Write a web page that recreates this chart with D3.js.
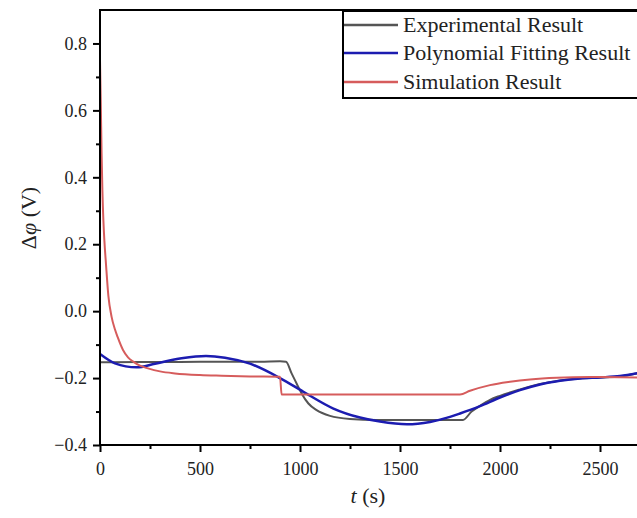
<!DOCTYPE html>
<html>
<head>
<meta charset="utf-8">
<script src="https://cdn.jsdelivr.net/npm/d3@7"></script>
<style>
  body { margin: 0; background: #fff; }
  svg { display: block; }
  text { font-family: "Liberation Serif", "Times New Roman", serif; }
</style>
</head>
<body>
<svg id="chart" width="637" height="518"></svg>
<script>
// Experimental result (gray)
var expT = [0, 200, 400, 600, 800, 900, 930, 958, 983, 1008, 1042, 1083, 1150, 1250, 1383, 1600, 1815, 1858, 1900, 1950, 2000, 2100, 2200, 2300, 2400, 2500, 2600, 2700];
var expV = [-0.153, -0.152, -0.152, -0.151, -0.151, -0.150, -0.151, -0.186, -0.216, -0.246, -0.276, -0.296, -0.313, -0.322, -0.325, -0.325, -0.325, -0.300, -0.283, -0.265, -0.253, -0.234, -0.218, -0.207, -0.201, -0.198, -0.195, -0.184];

// Polynomial fitting result (blue)
var fitT = [0, 75, 183, 275, 408, 530, 625, 750, 900, 1017, 1167, 1300, 1400, 1535, 1650, 1750, 1800, 1900, 2000, 2100, 2200, 2300, 2400, 2500, 2600, 2700];
var fitV = [-0.128, -0.156, -0.168, -0.157, -0.141, -0.134, -0.139, -0.157, -0.200, -0.241, -0.291, -0.318, -0.330, -0.338, -0.331, -0.316, -0.306, -0.284, -0.258, -0.236, -0.219, -0.208, -0.201, -0.198, -0.194, -0.184];

// Simulation result (red)
var simT = [0, 4, 8, 12, 17, 22, 30, 42, 58, 75, 88, 115, 140, 166, 200, 240, 300, 375, 500, 608, 750, 900, 908, 1000, 1800, 1850, 1950, 2050, 2150, 2283, 2450, 2700];
var simV = [0.75, 0.62, 0.47, 0.36, 0.27, 0.21, 0.14, 0.045, -0.017, -0.055, -0.077, -0.116, -0.138, -0.151, -0.163, -0.171, -0.180, -0.186, -0.191, -0.193, -0.195, -0.196, -0.249, -0.249, -0.249, -0.238, -0.221, -0.211, -0.204, -0.199, -0.197, -0.198];

var xMajor = [0, 500, 1000, 1500, 2000, 2500];
var xMinor = [250, 750, 1250, 1750, 2250];
var yMajor = [-0.4, -0.2, 0.0, 0.2, 0.4, 0.6, 0.8];
var yMinor = [-0.3, -0.1, 0.1, 0.3, 0.5, 0.7];

var seriesNames = ["Experimental Result", "Polynomial Fitting Result", "Simulation Result"];
var seriesColors = ["#555555", "#1c1cb0", "#d65c5c"];

var margin = {left: 100, top: 10, right: 640, bottom: 445};

var svg = d3.select("#chart");

var x = d3.scaleLinear().domain([0, 2700]).range([margin.left, margin.right]);
var y = d3.scaleLinear().domain([-0.4, 0.9]).range([margin.bottom, margin.top]);

svg.append("clipPath").attr("id", "plotclip")
  .append("rect")
  .attr("x", margin.left).attr("y", margin.top)
  .attr("width", margin.right - margin.left)
  .attr("height", margin.bottom - margin.top);

// Lines
var series = [
  {t: expT, v: expV, w: 2},
  {t: fitT, v: fitV, w: 2.5},
  {t: simT, v: simV, w: 2}
];

var line = d3.line()
  .x(function(d) { return x(d[0]); })
  .y(function(d) { return y(d[1]); })
  .curve(d3.curveMonotoneX);

var lineGroup = svg.append("g").attr("clip-path", "url(#plotclip)");
series.forEach(function(s, i) {
  var pts = s.t.map(function(t, j) { return [t, s.v[j]]; });
  lineGroup.append("path")
    .attr("d", line(pts))
    .attr("fill", "none")
    .attr("stroke", seriesColors[i])
    .attr("stroke-width", s.w)
    .attr("stroke-linejoin", "round");
});

// Axes
function styleAxis(g) {
  g.select(".domain").remove();
  g.selectAll(".tick line").attr("stroke", "#000").attr("stroke-width", 2);
  g.selectAll(".tick text").attr("fill", "#222").style("font-size", "18px")
    .style("font-family", "'Liberation Serif', serif");
}

svg.append("g").attr("transform", "translate(0," + margin.bottom + ")")
  .call(d3.axisBottom(x).tickValues(xMajor).tickSize(7).tickPadding(10).tickFormat(d3.format("d")))
  .call(styleAxis);
svg.append("g").attr("transform", "translate(0," + margin.bottom + ")")
  .call(d3.axisBottom(x).tickValues(xMinor).tickSize(4).tickFormat(""))
  .call(styleAxis);

svg.append("g").attr("transform", "translate(" + margin.left + ",0)")
  .call(d3.axisLeft(y).tickValues(yMajor).tickSize(7).tickPadding(6).tickFormat(d3.format(".1f")))
  .call(styleAxis);
svg.append("g").attr("transform", "translate(" + margin.left + ",0)")
  .call(d3.axisLeft(y).tickValues(yMinor).tickSize(4).tickFormat(""))
  .call(styleAxis);

// Frame
svg.append("rect")
  .attr("x", margin.left).attr("y", margin.top)
  .attr("width", margin.right - margin.left)
  .attr("height", margin.bottom - margin.top)
  .attr("fill", "none").attr("stroke", "#000").attr("stroke-width", 2);

// Axis titles
var yTitle = svg.append("text")
  .attr("transform", "translate(36,218) rotate(-90)")
  .attr("text-anchor", "middle")
  .style("font-size", "22px").attr("fill", "#222");
yTitle.append("tspan").text("Δ");
yTitle.append("tspan").style("font-style", "italic").text("φ");
yTitle.append("tspan").text(" (V)");

var xTitle = svg.append("text")
  .attr("x", 368).attr("y", 503)
  .attr("text-anchor", "middle")
  .style("font-size", "22px").attr("fill", "#222");
xTitle.append("tspan").style("font-style", "italic").text("t");
xTitle.append("tspan").text(" (s)");

// Legend
var legend = svg.append("g");
legend.append("rect")
  .attr("x", 343).attr("y", 11).attr("width", 310).attr("height", 87)
  .attr("fill", "#fff").attr("stroke", "#000").attr("stroke-width", 2);

var rowY = [25, 53, 82];
seriesNames.forEach(function(name, i) {
  legend.append("line")
    .attr("x1", 344).attr("x2", 398)
    .attr("y1", rowY[i]).attr("y2", rowY[i])
    .attr("stroke", seriesColors[i]).attr("stroke-width", 2.5);
  legend.append("text")
    .attr("x", 403).attr("y", rowY[i] + 7)
    .style("font-size", "22px").attr("fill", "#222")
    .text(name);
});
</script>
</body>
</html>
